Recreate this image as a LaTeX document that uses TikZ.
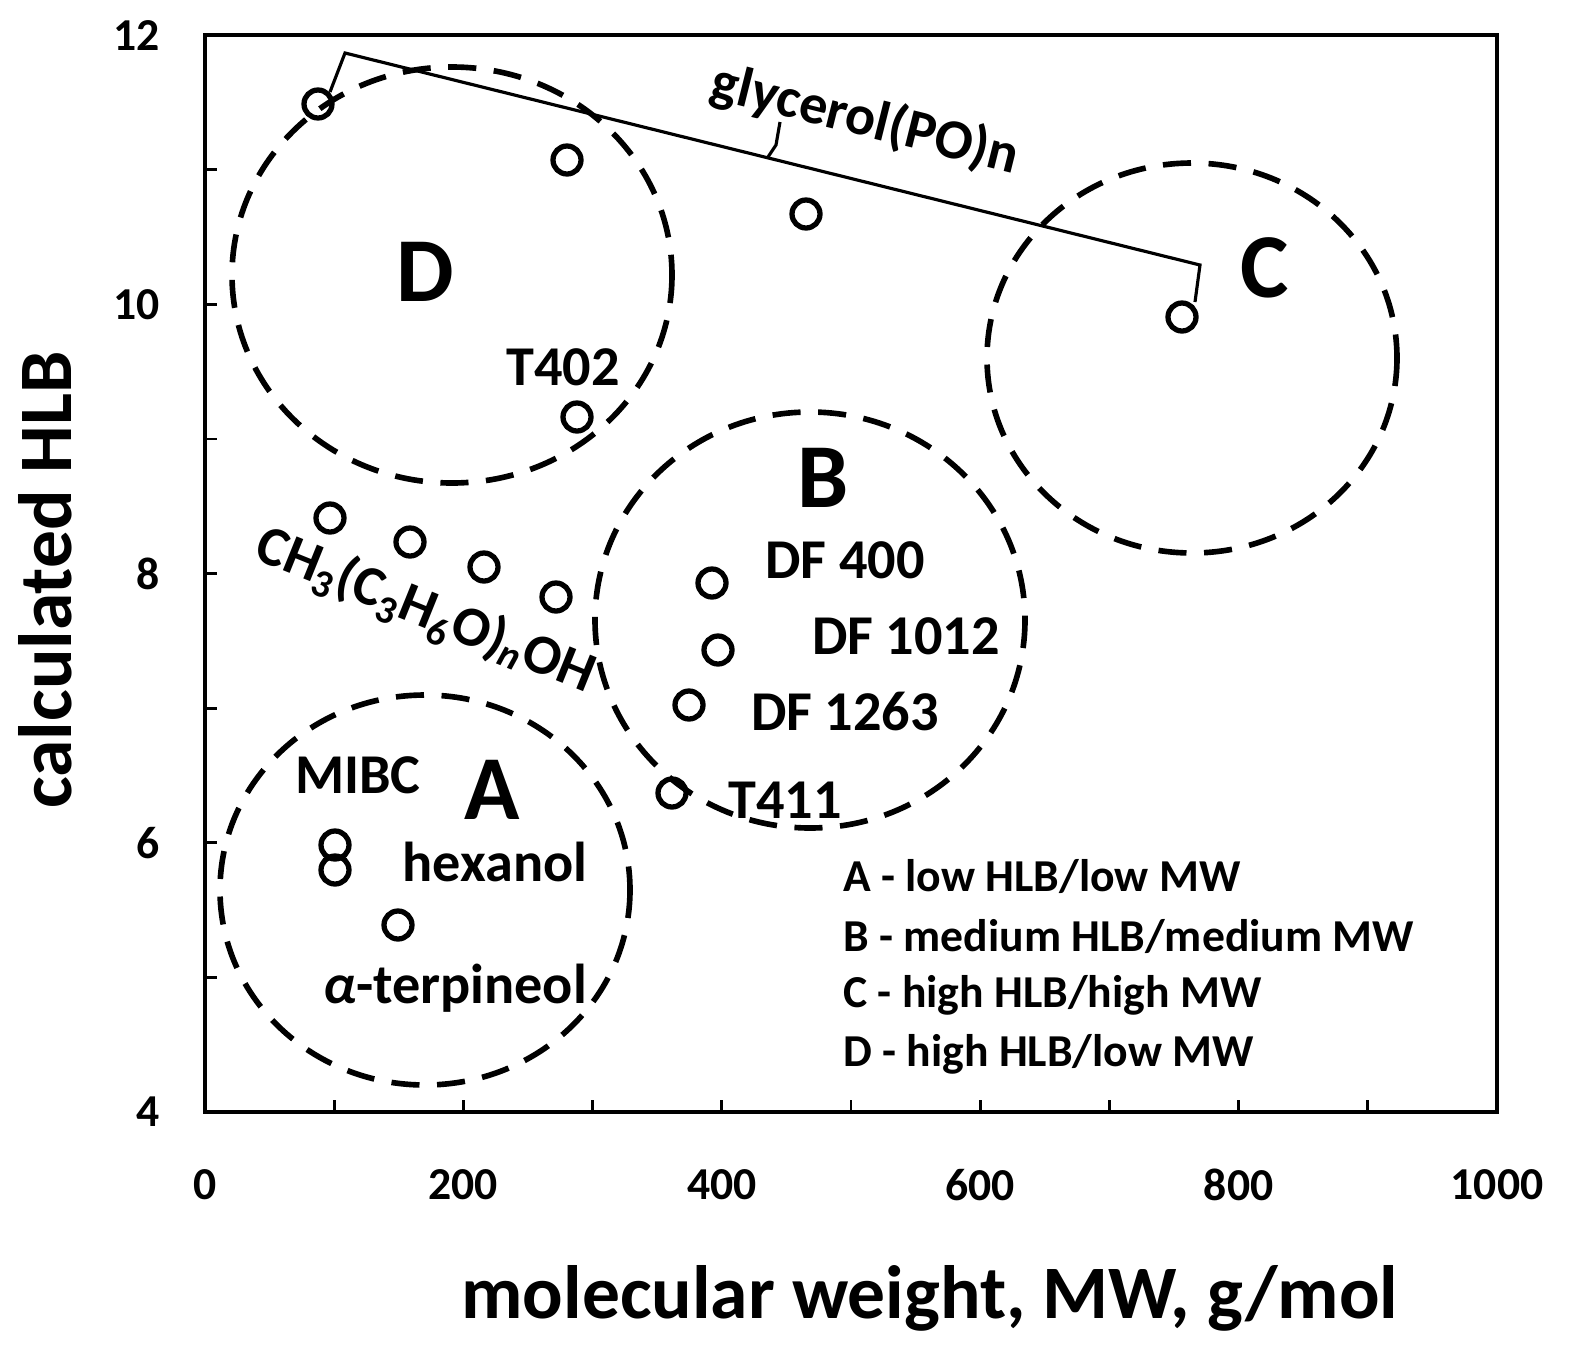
\documentclass[tikz,border=0pt]{standalone}
\usepackage{fontspec}
\setmainfont{Carlito}
\begin{document}
\begin{tikzpicture}[x=0.02cm,y=-0.02cm,font=\bfseries,
  pt/.style={circle,draw,line width=3pt,minimum size=0.56cm,inner sep=0pt},
  region/.style={draw,dashed,line width=3.2pt,dash pattern=on 16pt off 10pt},
  lbl/.style={font=\fontsize{32}{32}\selectfont\bfseries,inner sep=0pt},
  big/.style={font=\fontsize{52}{52}\selectfont\bfseries,inner sep=0pt},
  tick/.style={font=\fontsize{26}{26}\selectfont\bfseries,inner sep=0pt},
  leg/.style={font=\fontsize{26}{26}\selectfont\bfseries,anchor=west,inner sep=0pt}]
\useasboundingbox (0,0) rectangle (1583,1363);
% frame
\draw[line width=2.8pt] (205,35) rectangle (1497,1112);
\foreach \i in {1,...,9} \draw[line width=1.5pt] (205+129.2*\i,1112) -- (205+129.2*\i,1100);
\foreach \i in {1,...,7} \draw[line width=1.5pt] (205,1112-134.6*\i) -- (217,1112-134.6*\i);
\foreach \v/\i in {0/0,200/2,400/4,600/6,800/8,1000/10}
  \node[tick] (x\i) at (205+129.2*\i,1185) {\v};
\foreach \v/\i in {4/0,6/2,8/4,10/6,12/8}
  \node[tick,anchor=east] (y\i) at (160,1112-134.6*\i) {\v};
\node[font=\fontsize{43}{43}\selectfont\bfseries] (xt) at (930,1298) {molecular weight, MW, g/mol};
\node[font=\fontsize{43}{43}\selectfont\bfseries,rotate=90] (yt) at (45,580) {calculated  HLB};
% regions
\draw[region] (452,275) ellipse [x radius=220, y radius=208];
\draw[region] (1192,358) ellipse [x radius=205, y radius=195];
\draw[region] (810,620) ellipse [x radius=215, y radius=208];
\draw[region] (425,890) ellipse [x radius=205, y radius=195];
\node[big] (D) at (425,272) {D};
\node[big] (C) at (1265,268) {C};
\node[big] (B) at (823,478) {B};
\node[big] (A) at (492,790) {A};
% points
\node[pt] (g1) at (318,104) {};
\node[pt] (g2) at (567,160) {};
\node[pt] (g3) at (806,214) {};
\node[pt] (g4) at (1182,317) {};
\node[pt] (t402) at (577,417) {};
\node[pt] (c1) at (330,518) {};
\node[pt] (c2) at (410,542) {};
\node[pt] (c3) at (484,567) {};
\node[pt] (c4) at (556,597) {};
\node[pt] (d400) at (712,583) {};
\node[pt] (d1012) at (718,650) {};
\node[pt] (d1263) at (689,705) {};
\node[pt] (t411) at (672,793) {};
\node[pt] (mibc) at (335,845) {};
\node[pt] (hex) at (335,870) {};
\node[pt] (ter) at (398,925) {};
% bracket
\coordinate (b0) at (330,92);
\coordinate (b1) at (345,53);
\coordinate (b2) at (1200,265);
\coordinate (b3) at (1195,302);
\coordinate (m1) at (768,157);
\coordinate (m2) at (776,145);
\coordinate (m3) at (780,122);
\draw[line width=1.8pt] (b0) -- (b1) -- (b2) -- (b3);
\draw[line width=1.8pt] (m1) -- (m2) -- (m3);
\node[lbl,rotate=-14] (gly) at (865,120) {glycerol(PO)n};
% labels
\node[lbl] (lt402) at (563,367) {T402};
\node[lbl,rotate=-22] (lch) at (425,612) {CH\textsubscript{3}(C\textsubscript{3}H\textsubscript{6}O)\textsubscript{\textit{n}}OH};
\node[lbl] (l400) at (845,560) {DF 400};
\node[lbl] (l1012) at (906,636) {DF 1012};
\node[lbl] (l1263) at (845,712) {DF 1263};
\node[lbl] (l411) at (785,800) {T411};
\node[lbl] (lmibc) at (358,775) {MIBC};
\node[lbl] (lhex) at (495,862) {hexanol};
\node[lbl] (lter) at (455,988) {\textit{α}-terpineol};
% legend
\node[leg] (la) at (843,876) {A - low HLB/low MW};
\node[leg] (lb) at (843,936) {B - medium HLB/medium MW};
\node[leg] (lc) at (843,995) {C - high HLB/high MW};
\node[leg] (ld) at (843,1054) {D - high HLB/low MW};
\end{tikzpicture}
\end{document}
